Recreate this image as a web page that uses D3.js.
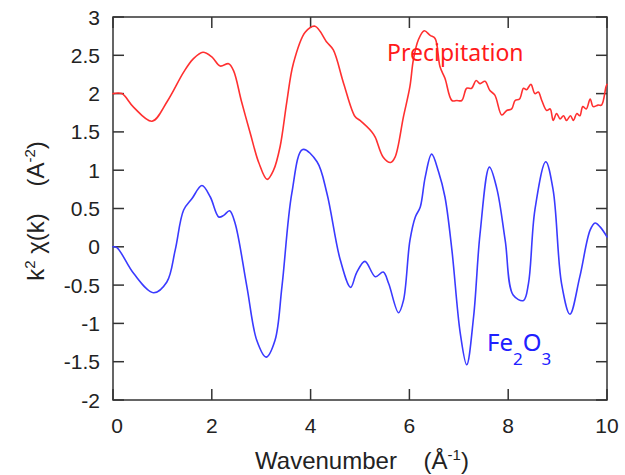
<!DOCTYPE html>
<html>
<head>
<meta charset="utf-8">
<script src="https://cdn.jsdelivr.net/npm/d3@7"></script>
<style>
  html, body { margin: 0; padding: 0; background: #fff; }
  svg { display: block; }
</style>
</head>
<body>
<svg id="chart" width="625" height="475"></svg>
<script>
// --- DATA ---
const precipK = [0, 0.18, 0.42, 0.79, 1.1, 1.43, 1.62, 1.82, 2.0, 2.17, 2.34, 2.44, 2.6, 2.78, 2.95, 3.12, 3.25, 3.38, 3.52, 3.65, 3.89, 4.09, 4.33, 4.46, 4.67, 4.9, 5.0, 5.24, 5.31, 5.47, 5.62, 5.71, 5.88, 6.01, 6.08, 6.18, 6.3, 6.42, 6.52, 6.62, 6.72, 6.86, 6.96, 7.06, 7.16, 7.26, 7.35, 7.43, 7.53, 7.63, 7.73, 7.87, 7.97, 8.07, 8.14, 8.23, 8.31, 8.37, 8.46, 8.54, 8.61, 8.68, 8.78, 8.85, 8.91, 8.98, 9.05, 9.12, 9.18, 9.26, 9.32, 9.39, 9.45, 9.51, 9.58, 9.66, 9.72, 9.82, 9.89, 9.98, 10];
const precipChi = [2.0, 2.0, 1.82, 1.64, 1.9, 2.28, 2.45, 2.54, 2.48, 2.36, 2.39, 2.30, 1.9, 1.48, 1.1, 0.88, 1.0, 1.30, 1.9, 2.39, 2.80, 2.88, 2.67, 2.57, 2.13, 1.70, 1.65, 1.50, 1.43, 1.17, 1.10, 1.17, 1.70, 2.09, 2.44, 2.70, 2.82, 2.76, 2.72, 2.35, 2.20, 1.91, 1.91, 1.91, 2.07, 2.07, 2.17, 2.13, 2.16, 2.04, 1.98, 1.72, 1.78, 1.80, 1.91, 1.93, 2.07, 2.05, 2.12, 2.0, 2.02, 1.91, 1.78, 1.80, 1.65, 1.74, 1.67, 1.71, 1.65, 1.71, 1.65, 1.74, 1.71, 1.83, 1.80, 1.93, 1.83, 1.85, 1.85, 2.09, 2.12];

const fe2o3K = [0, 0.08, 0.42, 0.82, 1.09, 1.26, 1.43, 1.6, 1.8, 1.97, 2.14, 2.24, 2.36, 2.47, 2.71, 2.91, 3.1, 3.28, 3.42, 3.62, 3.84, 4.13, 4.33, 4.6, 4.81, 4.93, 5.1, 5.31, 5.47, 5.58, 5.78, 5.88, 6.01, 6.12, 6.22, 6.32, 6.45, 6.59, 6.72, 6.86, 7.03, 7.16, 7.3, 7.43, 7.62, 7.77, 7.94, 8.1, 8.31, 8.41, 8.54, 8.76, 8.91, 9.08, 9.25, 9.45, 9.66, 9.76, 9.86, 10];
const fe2o3Chi = [0, -0.01, -0.35, -0.60, -0.46, -0.04, 0.48, 0.63, 0.80, 0.65, 0.39, 0.41, 0.47, 0.31, -0.52, -1.22, -1.44, -1.22, -0.52, 0.70, 1.27, 1.11, 0.70, -0.17, -0.53, -0.34, -0.19, -0.39, -0.33, -0.48, -0.86, -0.70, 0.08, 0.39, 0.52, 0.91, 1.21, 0.98, 0.65, -0.04, -1.13, -1.54, -0.91, 0.17, 1.04, 0.76, 0.08, -0.63, -0.70, -0.48, 0.48, 1.11, 0.74, -0.48, -0.88, -0.39, 0.22, 0.31, 0.26, 0.13];

const xTicks = [0, 2, 4, 6, 8, 10];
const yTicks = [-2, -1.5, -1, -0.5, 0, 0.5, 1, 1.5, 2, 2.5, 3];

const SERIES_COLORS = { precip: "#ff3030", fe2o3: "#3a3aff" };

// --- LAYOUT ---
const width = 625, height = 475;
const marginTop = 17, marginRight = 18, marginBottom = 75, marginLeft = 113;
const tickLen = 11;
const axisColor = "#333";

const x = d3.scaleLinear().domain([0, 10]).range([marginLeft, width - marginRight]);
const y = d3.scaleLinear().domain([-2, 3]).range([height - marginBottom, marginTop]);

const svg = d3.select("#chart");

// plot frame
svg.append("rect")
    .attr("x", x(0)).attr("y", y(3))
    .attr("width", x(10) - x(0)).attr("height", y(-2) - y(3))
    .attr("fill", "none").attr("stroke", axisColor).attr("stroke-width", 1.5);

// inward ticks on all four sides
const tickG = svg.append("g").attr("stroke", axisColor).attr("stroke-width", 1.5);
xTicks.forEach(t => {
    tickG.append("line").attr("x1", x(t)).attr("x2", x(t)).attr("y1", y(-2)).attr("y2", y(-2) - tickLen);
    tickG.append("line").attr("x1", x(t)).attr("x2", x(t)).attr("y1", y(3)).attr("y2", y(3) + tickLen);
});
yTicks.forEach(t => {
    tickG.append("line").attr("x1", x(0)).attr("x2", x(0) + tickLen).attr("y1", y(t)).attr("y2", y(t));
    tickG.append("line").attr("x1", x(10)).attr("x2", x(10) - tickLen).attr("y1", y(t)).attr("y2", y(t));
});

// tick labels
const labelFont = "'Liberation Sans', Arial, sans-serif";
svg.append("g")
    .attr("font-family", labelFont).attr("font-size", 21).attr("fill", "#222")
    .selectAll("text").data(xTicks).join("text")
    .attr("x", d => x(d) + (d === 0 ? 4 : 0))
    .attr("y", y(-2) + 33)
    .attr("text-anchor", "middle")
    .text(d => d);

svg.append("g")
    .attr("font-family", labelFont).attr("font-size", 21).attr("fill", "#222")
    .selectAll("text").data(yTicks).join("text")
    .attr("x", x(0) - 13)
    .attr("y", d => y(d) + 7.5)
    .attr("text-anchor", "end")
    .text(d => d);

// axis titles
const xTitle = svg.append("text")
    .attr("x", 362).attr("y", 469)
    .attr("text-anchor", "middle")
    .attr("font-family", labelFont).attr("font-size", 24).attr("fill", "#222");
xTitle.append("tspan").text("Wavenumber\u00A0\u00A0\u00A0\u00A0(\u00C5");
xTitle.append("tspan").attr("font-size", 15).attr("dy", -9).text("-1");
xTitle.append("tspan").attr("dy", 9).text(")");

const yTitle = svg.append("text")
    .attr("transform", `translate(44,211) rotate(-90)`)
    .attr("text-anchor", "middle")
    .attr("font-family", labelFont).attr("font-size", 24).attr("fill", "#222");
yTitle.append("tspan").text("k");
yTitle.append("tspan").attr("font-size", 15).attr("dy", -9).text("2");
yTitle.append("tspan").attr("dy", 9).text(" \u03C7(k)\u00A0\u00A0\u00A0\u00A0(A");
yTitle.append("tspan").attr("font-size", 15).attr("dy", -9).text("-2");
yTitle.append("tspan").attr("dy", 9).text(")");

// curves
const line = d3.line()
    .x(d => x(d[0]))
    .y(d => y(d[1]))
    .curve(d3.curveCatmullRom.alpha(0.5));

const series = [
    { key: "precip", pts: d3.zip(precipK, precipChi) },
    { key: "fe2o3", pts: d3.zip(fe2o3K, fe2o3Chi) }
];

svg.append("g")
    .attr("fill", "none").attr("stroke-width", 1.6)
    .attr("stroke-linejoin", "round").attr("stroke-linecap", "round")
    .selectAll("path").data(series).join("path")
    .attr("stroke", d => SERIES_COLORS[d.key])
    .attr("d", d => line(d.pts));

// annotations
const annFont = "'Noto Sans', 'Noto Sans CJK JP', sans-serif";
svg.append("text")
    .attr("x", 387).attr("y", 61)
    .attr("font-family", annFont).attr("font-size", 23)
    .attr("fill", "#ff1a1a")
    .text("Precipitation");

const fe = svg.append("text")
    .attr("x", 487).attr("y", 351)
    .attr("font-family", annFont).attr("font-size", 24)
    .attr("fill", "#2020ff");
fe.append("tspan").text("Fe");
fe.append("tspan").attr("font-size", 17).attr("dy", 14).text("2");
fe.append("tspan").attr("dy", -14).text("O");
fe.append("tspan").attr("font-size", 17).attr("dy", 14).text("3");
</script>
</body>
</html>
